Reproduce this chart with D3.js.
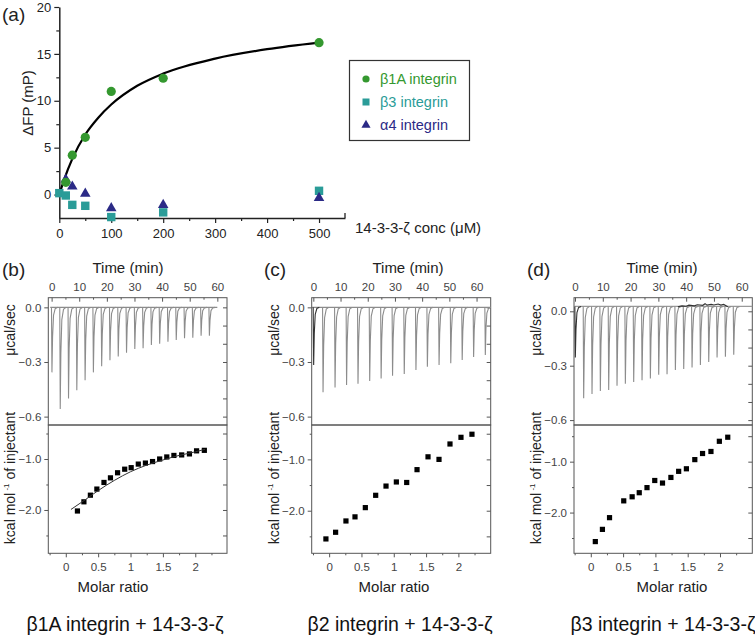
<!DOCTYPE html>
<html><head><meta charset="utf-8">
<script src="https://cdn.jsdelivr.net/npm/d3@7"></script>
<style>
body{margin:0;background:#fff;}
svg text{font-family:"Liberation Sans",Arial,sans-serif;}
</style></head>
<body><svg id="c" width="755" height="637"></svg>
<script>
// ---------- Panel (a) data ----------
const concB1A = [12.5, 25, 50, 100, 200, 500];
const fpB1A   = [1.3, 4.2, 6.1, 11.0, 12.4, 16.2];
const concB3  = [0, 12.5, 25, 50, 100, 200, 500];
const fpB3    = [0.15, -0.1, -1.1, -1.2, -2.4, -1.9, 0.4];
const concA4  = [12.5, 25, 50, 100, 200, 500];
const fpA4    = [1.6, 0.85, 0.1, -1.45, -1.1, -0.35];
const fitConc = [0, 10, 25, 50, 75, 100, 150, 200, 300, 400, 500];
const fitFP   = [0, 1.7, 3.8, 6.4, 8.2, 9.6, 11.6, 12.9, 14.5, 15.5, 16.2];
const aXTicks = [0, 100, 200, 300, 400, 500];
const aYTicks = [0, 5, 10, 15, 20];
const legendLabels = ["β1A integrin", "β3 integrin", "α4 integrin"];

// ---------- Panel (b) data ----------
const bTimes  = [0,3,6,9,12,15,18,21,24,27,30,33,36,39,42,45,48,51,54,57];
const bPeaks  = [-0.357,-0.558,-0.50,-0.455,-0.40,-0.357,-0.324,-0.29,-0.27,-0.249,-0.229,-0.225,-0.207,-0.20,-0.189,-0.179,-0.17,-0.167,-0.156,-0.156];
const bRatio  = [0.18,0.28,0.38,0.48,0.59,0.69,0.80,0.91,1.01,1.12,1.23,1.34,1.45,1.56,1.67,1.79,1.91,2.02,2.14];
const bHeat   = [-2.02,-1.84,-1.71,-1.59,-1.46,-1.37,-1.27,-1.20,-1.17,-1.10,-1.08,-1.05,-1.00,-0.96,-0.93,-0.92,-0.90,-0.84,-0.83];
const bFitRatio = [0.08,0.3,0.5,0.75,1.0,1.25,1.5,1.75,2.0,2.15];
const bFitHeat  = [-1.99,-1.80,-1.62,-1.42,-1.25,-1.12,-1.02,-0.93,-0.86,-0.81];

// ---------- Panel (c) data ----------
const cTimes  = [0,3.45,7.86,12.1,16.3,20.6,24.8,29.0,33.3,37.6,41.8,46.1,50.4,54.6,58.8,63.1];
const cPeaks  = [-0.316,-0.466,-0.44,-0.426,-0.419,-0.404,-0.39,-0.375,-0.366,-0.344,-0.326,-0.316,-0.307,-0.289,-0.273,-0.262];
const cRatio  = [-0.05,0.10,0.26,0.40,0.56,0.72,0.88,1.04,1.20,1.36,1.53,1.70,1.87,2.04,2.21];
const cHeat   = [-2.55,-2.42,-2.20,-2.12,-1.94,-1.70,-1.52,-1.44,-1.45,-1.20,-0.95,-1.00,-0.70,-0.57,-0.51];

// ---------- Panel (d) data ----------
const dTimes  = [0,3,6,9,12,15,18,21,24,27,30,33,36,39,42,45,48,51,54,57];
const dPeaks  = [-0.255,-0.48,-0.456,-0.44,-0.434,-0.41,-0.40,-0.39,-0.38,-0.37,-0.35,-0.347,-0.323,-0.318,-0.31,-0.296,-0.28,-0.255,-0.25,-0.24];
const dRatio  = [0.07,0.18,0.29,0.51,0.64,0.75,0.87,0.99,1.11,1.24,1.36,1.48,1.61,1.73,1.86,1.99,2.12];
const dHeat   = [-2.57,-2.33,-2.10,-1.77,-1.69,-1.61,-1.51,-1.37,-1.42,-1.31,-1.19,-1.14,-0.96,-0.84,-0.80,-0.60,-0.52];
const dNoiseT = [37,38.5,40,41,43,44,46,46.8,47.5,49,50,51.5,52.5,53.5,55];
const dNoiseV = [0.025,0.03,0.028,0.034,0.03,0.036,0.033,0.042,0.034,0.038,0.035,0.04,0.034,0.038,0.025];

const timeTicks  = [0,10,20,30,40,50,60];
const powerTicks = [0, -0.3, -0.6];
const ratioTicks = [0, 0.5, 1, 1.5, 2];
const heatTicks  = [-1.0, -2.0];

const svg = d3.select("#c");
const FONT = '"Liberation Sans",Arial,sans-serif';

// ================= Panel (a) =================
(function(){
  const x = d3.scaleLinear().domain([0,550]).range([59.3,345]);
  const y = d3.scaleLinear().domain([-2.5,20]).range([218,7]);
  const g = svg.append("g");
  // minor ticks
  const xa = d3.axisBottom(x).tickValues(aXTicks).tickSize(5).tickSizeOuter(0).tickFormat(d3.format("d"));
  const gx = g.append("g").attr("transform","translate(0,218)").call(xa);
  g.append("g").attr("transform","translate(0,218)")
    .call(d3.axisBottom(x).tickValues([50,150,250,350,450]).tickSize(3).tickSizeOuter(0).tickFormat(""))
    .select(".domain").remove();
  // right end tick pointing up
  g.append("line").attr("x1",x(550)).attr("x2",x(550)).attr("y1",218).attr("y2",213).attr("stroke","#222").attr("stroke-width",1.3);
  const ya = d3.axisLeft(y).tickValues(aYTicks).tickSize(5).tickSizeOuter(0);
  const gy = g.append("g").attr("transform","translate(59.3,0)").call(ya);
  g.append("g").attr("transform","translate(59.3,0)")
    .call(d3.axisLeft(y).tickValues([2.5,7.5,12.5,17.5]).tickSize(3).tickSizeOuter(0).tickFormat(""))
    .select(".domain").remove();
  g.selectAll(".domain").attr("stroke","#222").attr("stroke-width",1.5);
  g.selectAll(".tick line").attr("stroke","#222").attr("stroke-width",1.2);
  g.selectAll(".tick text").attr("font-family",FONT).attr("font-size",13).attr("fill","#222");
  gx.selectAll(".tick text").attr("dy","0.95em");

  g.append("text").attr("x",2).attr("y",21).attr("font-size",19).attr("fill","#222").text("(a)");
  g.append("text").attr("transform","translate(33,103) rotate(-90)").attr("text-anchor","middle")
    .attr("font-size",15).attr("fill","#222").text("ΔFP (mP)");
  g.append("text").attr("x",355).attr("y",233).attr("font-size",15).attr("fill","#222").text("14-3-3-ζ conc (μM)");

  // fit curve
  g.append("path").datum(fitConc.map((c,i)=>[c,fitFP[i]]))
    .attr("d",d3.line().x(d=>x(d[0])).y(d=>y(d[1])).curve(d3.curveMonotoneX))
    .attr("fill","none").attr("stroke","#000").attr("stroke-width",2.2);

  const green="#34982f", teal="#2a9c98", navy="#2b2a86";
  g.selectAll(".sq").data(concB3.map((c,i)=>[c,fpB3[i]])).enter().append("rect")
    .attr("x",d=>x(d[0])-4.2).attr("y",d=>y(d[1])-4.2).attr("width",8.4).attr("height",8.4).attr("fill",teal);
  const tri = d3.symbol().type(d3.symbolTriangle).size(48);
  g.selectAll(".tr").data(concA4.map((c,i)=>[c,fpA4[i]])).enter().append("path")
    .attr("d",tri).attr("transform",d=>`translate(${x(d[0])},${y(d[1])})`).attr("fill",navy);
  g.selectAll(".ci").data(concB1A.map((c,i)=>[c,fpB1A[i]])).enter().append("circle")
    .attr("cx",d=>x(d[0])).attr("cy",d=>y(d[1])).attr("r",4.6).attr("fill",green);

  // legend
  g.append("rect").attr("x",349.5).attr("y",60.5).attr("width",120).attr("height",80)
    .attr("fill","#fff").attr("stroke","#333").attr("stroke-width",1.2);
  const cols=[green,teal,navy];
  const ly=[79,102,125];
  g.append("circle").attr("cx",366).attr("cy",ly[0]).attr("r",3.6).attr("fill",green);
  g.append("rect").attr("x",362.5).attr("y",ly[1]-3.5).attr("width",7).attr("height",7).attr("fill",teal);
  g.append("path").attr("d",d3.symbol().type(d3.symbolTriangle).size(36)).attr("transform",`translate(366,${ly[2]})`).attr("fill",navy);
  legendLabels.forEach((t,i)=>{
    g.append("text").attr("x",380).attr("y",ly[i]+5).attr("font-size",14.5).attr("fill",cols[i]).text(t);
  });
})();

// ================= ITC panels =================
function itcPanel(o){
  const g = svg.append("g");
  const L=o.left, R=o.right, T=297.7, M=425, B=553.3;
  const xt = d3.scaleLinear().domain(o.tDom).range([L,R]);
  const yp = d3.scaleLinear().domain(o.pDom).range([M,T]);
  const xr = d3.scaleLinear().domain(o.rDom).range([L,R]);
  const yh = d3.scaleLinear().domain(o.hDom).range([B,M]);
  const ink="#555";

  // top time axis (labels above, ticks inward)
  const gt = g.append("g").attr("transform",`translate(0,${T})`)
    .call(d3.axisTop(xt).tickValues(timeTicks).tickSize(-4).tickSizeOuter(0).tickPadding(7));
  g.append("g").attr("transform",`translate(0,${T})`)
    .call(d3.axisTop(xt).tickValues([5,15,25,35,45,55]).tickSize(-2).tickSizeOuter(0).tickFormat(""));
  // left power axis
  g.append("g").attr("transform",`translate(${L},0)`)
    .call(d3.axisLeft(yp).tickValues(powerTicks).tickSize(4).tickSizeOuter(0).tickFormat(d3.format(".1f")));
  g.append("g").attr("transform",`translate(${R},0)`)
    .call(d3.axisRight(yp).tickValues([0,-0.1,-0.2,-0.3,-0.4,-0.5,-0.6]).tickSize(-4).tickSizeOuter(0).tickFormat(""));
  // lower axes
  g.append("g").attr("transform",`translate(0,${B})`)
    .call(d3.axisBottom(xr).tickValues(ratioTicks).tickSize(4).tickSizeOuter(0).tickPadding(6).tickFormat(d=>d));
  g.append("g").attr("transform",`translate(0,${B})`)
    .call(d3.axisBottom(xr).tickValues([-0.25,0.25,0.75,1.25,1.75,2.25]).tickSize(2).tickSizeOuter(0).tickFormat(""));
  g.append("g").attr("transform",`translate(${L},0)`)
    .call(d3.axisLeft(yh).tickValues(heatTicks).tickSize(4).tickSizeOuter(0).tickFormat(d3.format(".1f")));
  g.append("g").attr("transform",`translate(${L},0)`)
    .call(d3.axisLeft(yh).tickValues([-0.5,-1.5,-2.5]).tickSize(2).tickSizeOuter(0).tickFormat(""));
  g.append("g").attr("transform",`translate(${R},0)`)
    .call(d3.axisRight(yh).tickValues([-0.5,-1,-1.5,-2,-2.5]).tickSize(-4).tickSizeOuter(0).tickFormat(""));
  g.selectAll(".domain").remove();
  g.selectAll(".tick line").attr("stroke",ink).attr("stroke-width",1);
  g.selectAll(".tick text").attr("font-family",FONT).attr("font-size",11.5).attr("fill","#444");

  // frames
  g.append("rect").attr("x",L).attr("y",T).attr("width",R-L).attr("height",M-T).attr("fill","none").attr("stroke",ink).attr("stroke-width",1);
  g.append("rect").attr("x",L).attr("y",M).attr("width",R-L).attr("height",B-M).attr("fill","none").attr("stroke",ink).attr("stroke-width",1);

  // thermogram
  const clipId="clip"+o.id;
  g.append("clipPath").attr("id",clipId).append("rect").attr("x",L).attr("y",T).attr("width",R-L).attr("height",M-T);
  const th = g.append("g").attr("clip-path",`url(#${clipId})`);
  const base=o.base;
  th.append("line").attr("x1",xt(o.baseStart)).attr("x2",xt(o.baseEnd)).attr("y1",yp(base)).attr("y2",yp(base))
    .attr("stroke",o.baseColor).attr("stroke-width",1.2);
  const line = d3.line().x(d=>xt(d[0])).y(d=>yp(d[1]));
  o.times.forEach((t,i)=>{
    const p=o.peaks[i];
    const pts=[[t-0.05,base],[t+0.12,p],[t+0.35,base+(p-base)*0.45],[t+0.7,base+(p-base)*0.12],[t+1.3,base+(p-base)*0.02],[t+2.2,base]];
    th.append("path").attr("d",line(pts)).attr("fill","none")
      .attr("stroke", i===0 && o.firstDark ? "#333" : "#8c8c8c").attr("stroke-width",1.1);
  });
  if(o.noiseT){
    th.append("path").attr("d",line(o.noiseT.map((t,i)=>[t,o.noiseV[i]]))).attr("fill","none").attr("stroke","#333").attr("stroke-width",1.1);
  }

  // binding isotherm
  g.selectAll(".pt"+o.id).data(o.ratio.map((r,i)=>[r,o.heat[i]])).enter().append("rect")
    .attr("x",d=>xr(d[0])-2.6).attr("y",d=>yh(d[1])-2.6).attr("width",5.2).attr("height",5.2).attr("fill","#000");
  if(o.fitR){
    g.append("path").datum(o.fitR.map((r,i)=>[r,o.fitH[i]]))
      .attr("d",d3.line().x(d=>xr(d[0])).y(d=>yh(d[1])).curve(d3.curveMonotoneX))
      .attr("fill","none").attr("stroke","#333").attr("stroke-width",1);
  }

  // labels
  g.append("text").attr("x",o.labX).attr("y",276).attr("font-size",19).attr("fill","#222").text(o.label);
  g.append("text").attr("x",o.timeX).attr("y",273).attr("text-anchor","middle").attr("font-size",15).attr("fill","#222").text("Time (min)");
  g.append("text").attr("x",o.molX).attr("y",592).attr("text-anchor","middle").attr("font-size",15).attr("fill","#222").text("Molar ratio");
  g.append("text").attr("x",o.titleX).attr("y",631).attr("text-anchor","middle").attr("font-size",19.5).attr("fill","#111").text(o.title);
  g.append("text").attr("transform",`translate(${L-33},${330}) rotate(-90)`).attr("text-anchor","middle").attr("font-size",14).attr("fill","#222").text("μcal/sec");
  const kt = g.append("text").attr("transform",`translate(${L-33},${478}) rotate(-90)`).attr("text-anchor","middle").attr("font-size",14).attr("fill","#222");
  kt.append("tspan").text("kcal mol");
  kt.append("tspan").attr("font-size",8).attr("dy",-6).text(" -1");
  kt.append("tspan").attr("dy",6).text("  of injectant");
}

itcPanel({id:"b",left:48.3,right:227,tDom:[-1.2,63.5],pDom:[-0.646,0.053],rDom:[-0.27,2.49],hDom:[-2.85,-0.333],
  base:0,baseStart:-0.5,baseEnd:60,baseColor:"#8c8c8c",times:bTimes,peaks:bPeaks,
  ratio:bRatio,heat:bHeat,fitR:bFitRatio,fitH:bFitHeat,
  label:"(b)",labX:2,timeX:128,molX:113,titleX:125,title:"β1A integrin + 14-3-3-ζ"});
itcPanel({id:"c",left:311.7,right:490.7,tDom:[-0.6,65.2],pDom:[-0.646,0.053],rDom:[-0.27,2.5],hDom:[-2.83,-0.33],
  base:0,baseStart:-0.5,baseEnd:66,baseColor:"#8c8c8c",times:cTimes,peaks:cPeaks,firstDark:true,
  ratio:cRatio,heat:cHeat,
  label:"(c)",labX:264,timeX:408,molX:394,titleX:400,title:"β2 integrin + 14-3-3-ζ"});
itcPanel({id:"d",left:574,right:752.3,tDom:[-0.36,63.8],pDom:[-0.627,0.075],rDom:[-0.26,2.5],hDom:[-2.80,-0.28],
  base:0.027,baseStart:-0.4,baseEnd:64,baseColor:"#9a9a9a",times:dTimes,peaks:dPeaks,firstDark:true,
  noiseT:dNoiseT,noiseV:dNoiseV,
  ratio:dRatio,heat:dHeat,
  label:"(d)",labX:527,timeX:662,molX:672,titleX:663,title:"β3 integrin + 14-3-3-ζ"});
</script>
</body></html>
